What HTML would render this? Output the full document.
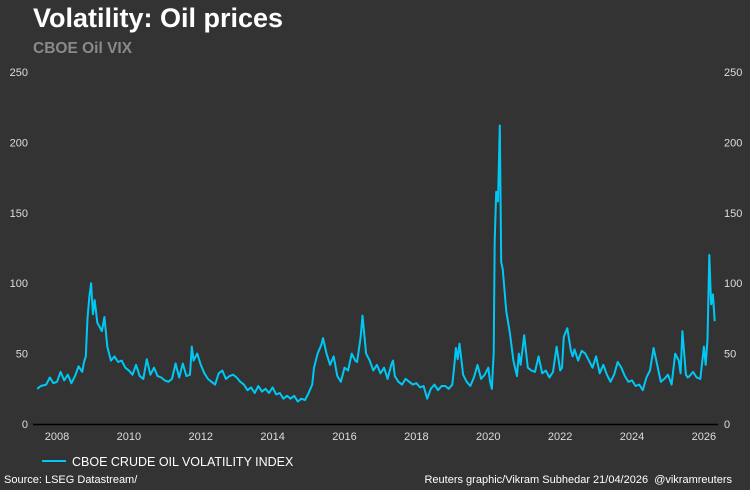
<!DOCTYPE html>
<html><head><meta charset="utf-8"><style>
body{margin:0;background:#333;}
#c{width:750px;height:490px;position:relative;background:#333;font-family:"Liberation Sans",sans-serif;overflow:hidden}
.t{position:absolute;color:#fff}
</style></head><body>
<div id="c">
<div class="t" style="left:33px;top:3px;font-size:27px;font-weight:bold">Volatility: Oil prices</div>
<div class="t" style="left:33px;top:40px;font-size:15.5px;font-weight:bold;color:#8a8a8a">CBOE Oil VIX</div>
<svg id="s" width="750" height="490" style="position:absolute;left:0;top:0"></svg>
<div class="t" style="left:4px;top:474px;font-size:11px">Source: LSEG Datastream/</div>
<div class="t" style="right:18px;top:474px;font-size:11px">Reuters graphic/Vikram Subhedar 21/04/2026 &nbsp;@vikramreuters</div>
</div>
<script>
const yTicks=[0,50,100,150,200,250];
const xTicks=[2008,2010,2012,2014,2016,2018,2020,2022,2024,2026];
const dates=[2007.45,2007.55,2007.7,2007.8,2007.9,2008.0,2008.1,2008.2,2008.3,2008.4,2008.5,2008.6,2008.7,2008.75,2008.8,2008.85,2008.9,2008.95,2009.0,2009.05,2009.12,2009.25,2009.32,2009.4,2009.5,2009.6,2009.7,2009.8,2009.9,2010.0,2010.1,2010.2,2010.3,2010.4,2010.5,2010.6,2010.7,2010.8,2010.9,2011.0,2011.1,2011.2,2011.3,2011.4,2011.5,2011.6,2011.7,2011.75,2011.8,2011.9,2012.0,2012.1,2012.2,2012.3,2012.4,2012.5,2012.6,2012.7,2012.8,2012.9,2013.0,2013.1,2013.2,2013.3,2013.4,2013.5,2013.6,2013.7,2013.8,2013.9,2014.0,2014.1,2014.2,2014.3,2014.4,2014.5,2014.6,2014.7,2014.8,2014.9,2015.0,2015.1,2015.15,2015.25,2015.35,2015.4,2015.5,2015.6,2015.7,2015.8,2015.9,2016.0,2016.1,2016.2,2016.3,2016.35,2016.45,2016.5,2016.6,2016.7,2016.8,2016.9,2017.0,2017.1,2017.2,2017.3,2017.35,2017.4,2017.5,2017.6,2017.7,2017.8,2017.9,2018.0,2018.1,2018.2,2018.3,2018.4,2018.5,2018.6,2018.7,2018.8,2018.9,2019.0,2019.05,2019.1,2019.15,2019.2,2019.3,2019.4,2019.5,2019.6,2019.7,2019.8,2019.9,2020.0,2020.05,2020.1,2020.12,2020.15,2020.18,2020.22,2020.27,2020.32,2020.36,2020.4,2020.5,2020.6,2020.7,2020.8,2020.85,2020.9,2021.0,2021.1,2021.2,2021.3,2021.4,2021.5,2021.6,2021.7,2021.8,2021.9,2022.0,2022.05,2022.1,2022.2,2022.3,2022.35,2022.4,2022.5,2022.6,2022.7,2022.8,2022.9,2023.0,2023.1,2023.2,2023.3,2023.4,2023.5,2023.6,2023.7,2023.8,2023.9,2024.0,2024.1,2024.2,2024.3,2024.4,2024.5,2024.6,2024.7,2024.8,2024.9,2025.0,2025.1,2025.2,2025.3,2025.35,2025.4,2025.5,2025.55,2025.6,2025.7,2025.8,2025.9,2026.0,2026.05,2026.1,2026.15,2026.2,2026.25,2026.3,2026.33,2026.35];
const values=[25,27,28,33,29,30,37,31,35,29,34,41,37,44,48,75,90,100,78,88,72,66,76,55,45,48,44,45,40,38,35,42,34,32,46,35,40,34,33,31,30,32,43,33,43,34,35,55,45,50,42,36,32,30,28,36,38,32,34,35,33,30,28,24,26,22,27,23,25,22,26,21,22,18,20,18,20,16,18,17,22,28,40,50,56,61,50,42,48,34,30,40,38,50,45,44,62,77,50,45,38,42,36,40,32,42,45,34,30,28,32,30,28,29,26,27,18,25,28,24,27,27,25,28,40,54,46,57,35,30,27,33,42,32,35,40,30,25,36,50,130,165,158,212,115,110,80,65,45,34,50,42,63,40,38,37,48,36,38,33,37,55,38,40,62,68,52,48,53,45,52,50,45,40,48,36,42,35,30,35,44,40,34,30,31,27,28,24,33,38,54,42,30,32,35,28,50,45,36,66,35,33,34,37,33,32,55,42,60,120,85,92,73];
const NS='http://www.w3.org/2000/svg';
const svg=document.getElementById('s');
const X=d=>57+(d-2008)*35.94;
const Y=v=>424-v*352/250;
function mk(t,a){const e=document.createElementNS(NS,t);for(const k in a)e.setAttribute(k,a[k]);svg.appendChild(e);return e;}
yTicks.forEach(v=>{
  let l=mk('text',{x:28,y:Y(v)+4,'text-anchor':'end','font-size':11,fill:'#ddd','font-family':'Liberation Sans'});
  l.textContent=v;
  
  
  let r=mk('text',{x:724,y:Y(v)+4,'text-anchor':'start','font-size':11,fill:'#ddd','font-family':'Liberation Sans'});
  r.textContent=v;
  
  
});
xTicks.forEach(d=>{
  let t=mk('text',{x:X(d),y:440,'text-anchor':'middle','font-size':11,fill:'#ddd','font-family':'Liberation Sans'});
  t.textContent=d;
  
  
});
let ax=mk('line',{x1:33,x2:718,y1:424.5,y2:424.5,stroke:'#000','stroke-width':1.5});


let p=mk('polyline',{points:dates.map((d,i)=>X(d).toFixed(1)+','+Y(values[i]).toFixed(1)).join(' '),fill:'none',stroke:'#00c8f5','stroke-width':2,'stroke-linejoin':'round'});


let ll=mk('line',{x1:42,x2:66,y1:461,y2:461,stroke:'#00c8f5','stroke-width':2});


let lt=mk('text',{x:72,y:466,'font-size':12.5,fill:'#fff','font-family':'Liberation Sans'});
lt.textContent='CBOE CRUDE OIL VOLATILITY INDEX';


</script>
</body></html>
